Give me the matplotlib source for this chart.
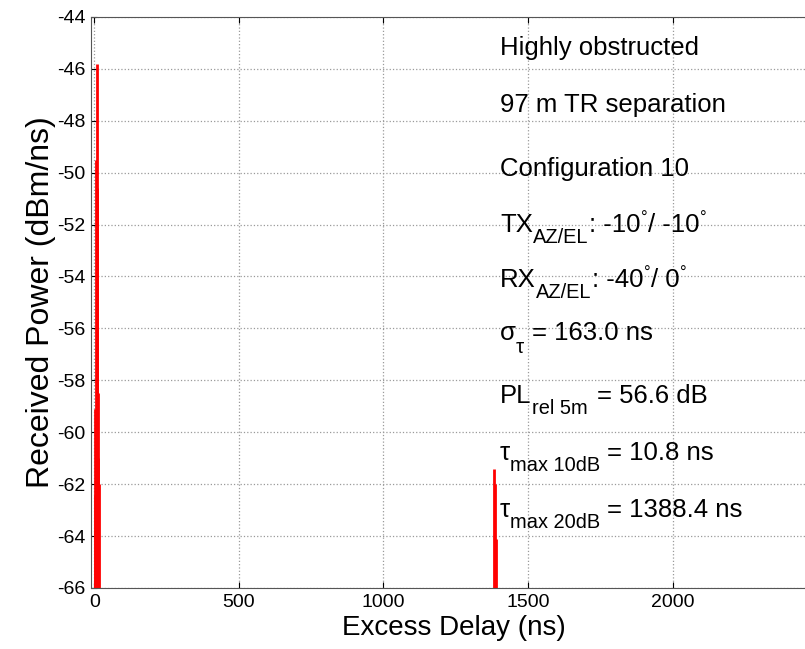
import matplotlib
matplotlib.use("Agg")
import matplotlib.pyplot as plt
import matplotlib.transforms as mtransforms

plt.rcParams['font.family'] = ['Liberation Sans', 'DejaVu Sans']
plt.rcParams['axes.unicode_minus'] = False

# Multipath components: excess delay (ns) and received power (dBm/ns)
delays = [1, 3, 5, 7, 8, 10, 12, 14, 16, 1384, 1386, 1388]
powers = [-62.4, -59.1, -61.0, -49.5, -45.8, -50.6, -61.0, -58.5, -62.0, -61.4, -62.0, -64.1]

floor_db = -66
yticks = list(range(-66, -43, 2))
xticks = [0, 500, 1000, 1500, 2000]

# annotation rows: (text, size factor, vertical shift factor, gap after px)
rows = [
    [("Highly obstructed", 1, 0, 0)],
    [("97 m TR separation", 1, 0, 0)],
    [("Configuration 10", 1, 0, 0)],
    [("TX", 1, 0, 0), ("AZ/EL", 0.78, -0.42, 1), (": -10", 1, 0, 0), ("°", 0.65, 0.34, 1),
     ("/ -10", 1, 0, 0), ("°", 0.65, 0.34, 0)],
    [("RX", 1, 0, 0), ("AZ/EL", 0.78, -0.42, 1), (": -40", 1, 0, 0), ("°", 0.65, 0.34, 1),
     ("/ 0", 1, 0, 0), ("°", 0.65, 0.34, 0)],
    [("σ", 1, 0, 0), ("τ", 0.8, -0.5, 8), ("= 163.0 ns", 1, 0, 0)],
    [("PL", 1, 0, 1), ("rel 5m", 0.78, -0.42, 9), ("= 56.6 dB", 1, 0, 0)],
    [("τ", 1, 0, 0), ("max 10dB", 0.78, -0.42, 7), ("= 10.8 ns", 1, 0, 0)],
    [("τ", 1, 0, 0), ("max 20dB", 0.78, -0.42, 7), ("= 1388.4 ns", 1, 0, 0)],
]
row_baselines = [-45.46, -47.66, -50.13, -52.29, -54.40, -56.45, -58.87, -61.07, -63.27]

fig = plt.figure(figsize=(8.05, 6.49), dpi=100)
ax = fig.add_axes([0.113, 0.094, 0.902, 0.880])

ax.vlines(delays, floor_db, powers, color='red', linewidth=2.0)

ax.set_xlim(-12, 2500)
ax.set_ylim(-66, -44)
ax.set_xticks(xticks)
ax.set_yticks(yticks)
ax.tick_params(direction='in', labelsize=14, length=4, top=True, right=True, pad=4)
ax.grid(True, linestyle=':', color='#9a9a9a', linewidth=0.9)
for s in ax.spines.values():
    s.set_color('#555555')

ax.set_xlabel("Excess Delay (ns)", fontsize=20, labelpad=3)
ax.set_ylabel("Received Power (dBm/ns)", fontsize=23, labelpad=1)

renderer = fig.canvas.get_renderer()
fs = 18.5
fs_px = fs * fig.dpi / 72.0
x0 = 1403
for segs, yb in zip(rows, row_baselines):
    dx = 0.0
    for txt, sc, dy, gap in segs:
        tr = mtransforms.offset_copy(ax.transData, fig=fig, x=dx, y=dy * fs_px, units='dots')
        t = ax.text(x0, yb, txt, fontsize=fs * sc, transform=tr, va='baseline', ha='left')
        w = t.get_window_extent(renderer=renderer).width
        dx += w + gap

fig.savefig("out.png", dpi=100)
